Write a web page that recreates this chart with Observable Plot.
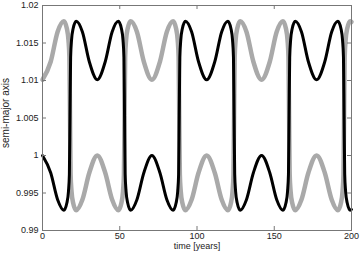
<!DOCTYPE html>
<html>
<head>
<meta charset="utf-8">
<script src="https://cdn.jsdelivr.net/npm/d3@7"></script>
<script src="https://cdn.jsdelivr.net/npm/@observablehq/plot@0.6"></script>
<style>
  html, body { margin: 0; padding: 0; background: #fff; }
  #chart svg { display: block; }
</style>
</head>
<body>
<div id="chart"></div>
<script>
// time in years (shared sample times)
const years = [
  0, 5.3, 9.8, 13.8,
  15.8, 16.8, 17.4, 17.8, 18.2, 18.8, 19.8, 21.8,
  25.8, 30.3, 35.45, 40.6, 45.1, 49.1,
  51.1, 52.1, 52.7, 53.1, 53.5, 54.1, 55.1, 57.1,
  61.1, 65.6, 70.8, 76.0, 80.5, 84.5,
  86.5, 87.5, 88.1, 88.5, 88.9, 89.5, 90.5, 92.5,
  96.5, 101.0, 106.25, 111.5, 116.0, 120.0,
  122.0, 123.0, 123.6, 124.0, 124.4, 125.0, 126.0, 128.0,
  132.0, 136.5, 141.8, 147.1, 151.6, 155.6,
  157.6, 158.6, 159.2, 159.6, 160.0, 160.6, 161.6, 163.6,
  167.6, 172.1, 177.4, 182.7, 187.2, 191.2,
  193.2, 194.2, 194.8, 195.2, 195.6, 196.2, 197.2, 199.2, 200
];
// black body semi-major axis
const blackAxis = [
  1.0000, 0.9977, 0.9941, 0.9927,
  0.9937, 0.9952, 0.9975, 1.0053, 1.0131, 1.0154, 1.0169, 1.0179,
  1.0165, 1.0125, 1.0101, 1.0125, 1.0165, 1.0179,
  1.0169, 1.0154, 1.0131, 1.0053, 0.9975, 0.9952, 0.9937, 0.9927,
  0.9941, 0.9977, 1.0000, 0.9977, 0.9941, 0.9927,
  0.9937, 0.9952, 0.9975, 1.0053, 1.0131, 1.0154, 1.0169, 1.0179,
  1.0165, 1.0125, 1.0101, 1.0125, 1.0165, 1.0179,
  1.0169, 1.0154, 1.0131, 1.0053, 0.9975, 0.9952, 0.9937, 0.9927,
  0.9941, 0.9977, 1.0000, 0.9977, 0.9941, 0.9927,
  0.9937, 0.9952, 0.9975, 1.0053, 1.0131, 1.0154, 1.0169, 1.0179,
  1.0165, 1.0125, 1.0101, 1.0125, 1.0165, 1.0179,
  1.0169, 1.0154, 1.0131, 1.0053, 0.9975, 0.9952, 0.9937, 0.9927, 0.9928
];
// grey body semi-major axis
const greyAxis = [
  1.0101, 1.0125, 1.0165, 1.0179,
  1.0169, 1.0154, 1.0131, 1.0053, 0.9975, 0.9952, 0.9937, 0.9927,
  0.9941, 0.9977, 1.0000, 0.9977, 0.9941, 0.9927,
  0.9937, 0.9952, 0.9975, 1.0053, 1.0131, 1.0154, 1.0169, 1.0179,
  1.0165, 1.0125, 1.0101, 1.0125, 1.0165, 1.0179,
  1.0169, 1.0154, 1.0131, 1.0053, 0.9975, 0.9952, 0.9937, 0.9927,
  0.9941, 0.9977, 1.0000, 0.9977, 0.9941, 0.9927,
  0.9937, 0.9952, 0.9975, 1.0053, 1.0131, 1.0154, 1.0169, 1.0179,
  1.0165, 1.0125, 1.0101, 1.0125, 1.0165, 1.0179,
  1.0169, 1.0154, 1.0131, 1.0053, 0.9975, 0.9952, 0.9937, 0.9927,
  0.9941, 0.9977, 1.0000, 0.9977, 0.9941, 0.9927,
  0.9937, 0.9952, 0.9975, 1.0053, 1.0131, 1.0154, 1.0169, 1.0179, 1.0178
];
const xTicks = [0, 50, 100, 150, 200];
const yTicks = [0.99, 0.995, 1, 1.005, 1.01, 1.015, 1.02];
const yTickLabels = ["0.99", "0.995", "1", "1.005", "1.01", "1.015", "1.02"];
const xLabel = "time [years]";
const yLabel = "semi-major axis";

const black = years.map((t, i) => ({t, a: blackAxis[i]}));
const grey = years.map((t, i) => ({t, a: greyAxis[i]}));

const W = 360, H = 253;
const mL = 42, mR = 9, mT = 5, mB = 23;
const innerW = W - mL - mR, innerH = H - mT - mB;
const tl = 4;
const axisColor = "#777";

const chart = Plot.plot({
  width: W, height: H,
  marginLeft: mL, marginRight: mR, marginTop: mT, marginBottom: mB,
  style: {fontFamily: "'Liberation Sans', Arial, sans-serif", fontSize: "9px", color: "#222", background: "#fff"},
  x: {domain: [0, 200]},
  y: {domain: [0.99, 1.02]},
  marks: [
    Plot.line(grey, {x: "t", y: "a", stroke: "#a9a9a9", strokeWidth: 4.5, curve: "monotone-x"}),
    Plot.line(black, {x: "t", y: "a", stroke: "#000", strokeWidth: 3, curve: "monotone-x"}),
    Plot.frame({stroke: axisColor, strokeWidth: 1}),
    Plot.tickX(xTicks, {x: d => d, insetTop: innerH - tl, stroke: axisColor}),
    Plot.tickX(xTicks, {x: d => d, insetBottom: innerH - tl, stroke: axisColor}),
    Plot.tickY(yTicks, {y: d => d, insetRight: innerW - tl, stroke: axisColor}),
    Plot.tickY(yTicks, {y: d => d, insetLeft: innerW - tl, stroke: axisColor}),
    Plot.axisX(xTicks, {tickSize: 0, tickPadding: 2, label: null, fill: "#222"}),
    Plot.axisY(yTicks, {tickSize: 0, tickPadding: 4, label: null, fill: "#222",
      tickFormat: d => yTickLabels[yTicks.indexOf(d)]}),
    Plot.text([xLabel], {frameAnchor: "bottom", dy: 18, fill: "#222"}),
    Plot.text([yLabel], {frameAnchor: "left", textAnchor: "middle", dx: -37, dy: -5, rotate: -90, fill: "#222", fontSize: 10})
  ]
});
document.getElementById("chart").appendChild(chart);
</script>
</body>
</html>
